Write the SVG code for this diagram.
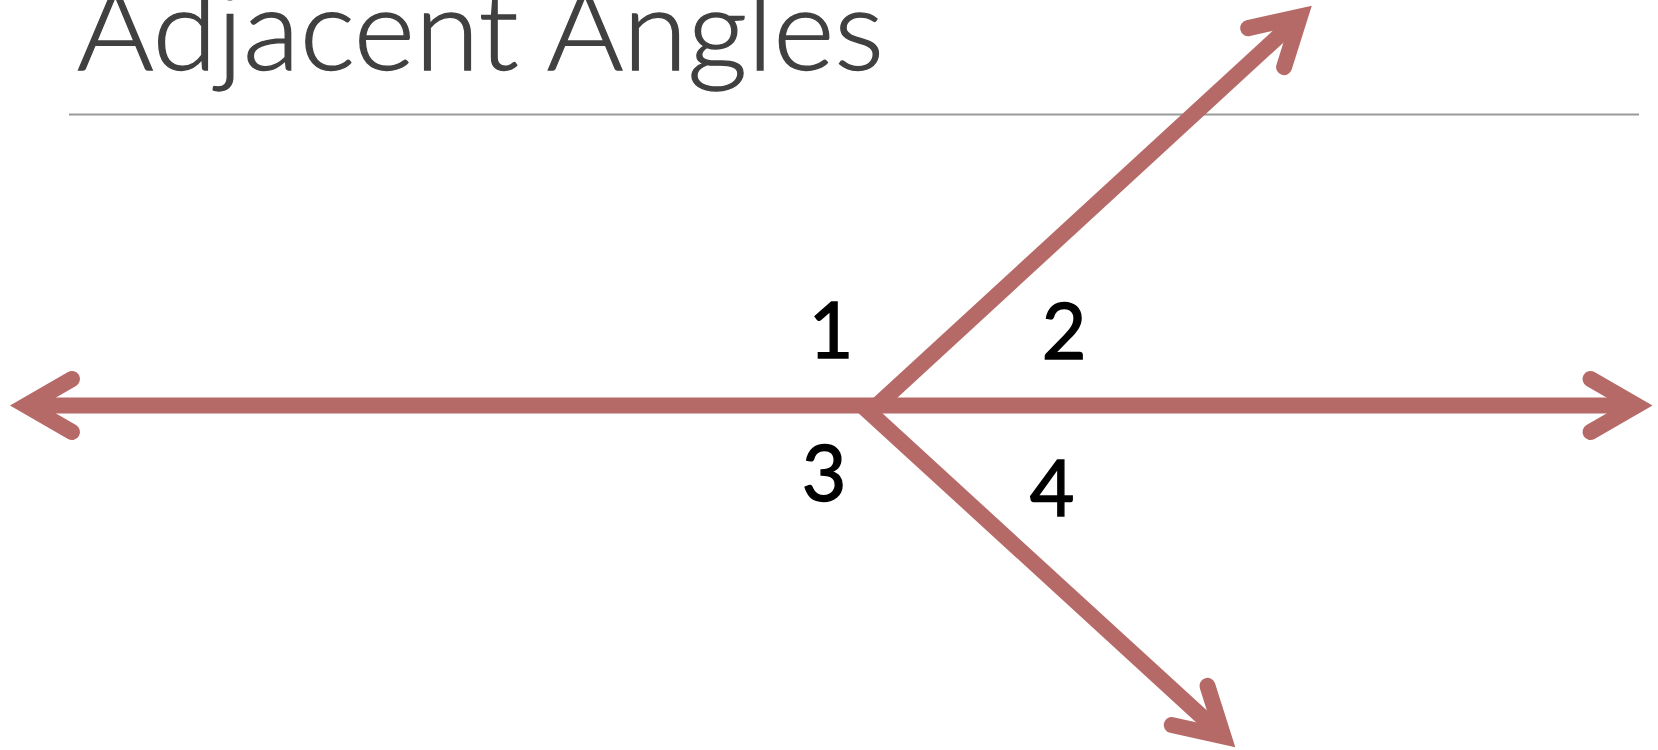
<svg xmlns="http://www.w3.org/2000/svg" width="1658" height="750" viewBox="0 0 1658 750">
<style>
.ln{stroke:#B66A68;stroke-width:16;fill:none;stroke-linecap:butt}
.num{font-family:Lato,"Open Sans","Liberation Sans",sans-serif;font-size:77px;fill:#000;stroke:#000;stroke-width:1.4;text-anchor:middle}
.title{font-family:Lato,"Open Sans","Liberation Sans",sans-serif;font-weight:300;font-size:113px;fill:#404040;stroke:#404040;stroke-width:1.3}
</style>
<defs>
<marker id="ah" viewBox="-70 -45 100 90" markerWidth="100" markerHeight="90" refX="0" refY="0" orient="auto-start-reverse" markerUnits="userSpaceOnUse" overflow="visible">
<path d="M-46,-26.5 L0,0 L-46,26.5" fill="none" stroke="#B66A68" stroke-width="16" stroke-linecap="round" stroke-linejoin="miter"/>
</marker>
</defs>
<g id="title">
<text class="title" x="77" y="70" textLength="807" lengthAdjust="spacingAndGlyphs">Adjacent Angles</text>
<line x1="69" y1="114.5" x2="1639" y2="114.5" stroke="#9a9a9a" stroke-width="1.8"/>
</g>
<g id="connectors">
<line class="ln" x1="26" y1="405.5" x2="1636.5" y2="405.5" marker-start="url(#ah)" marker-end="url(#ah)"/>
<line class="ln" x1="877" y1="405.5" x2="1300" y2="16.5" marker-end="url(#ah)"/>
<line class="ln" x1="862" y1="405.5" x2="1223.5" y2="736.5" marker-end="url(#ah)"/>
</g>
<g id="label1"><text class="num" x="831" y="358">1</text></g>
<g id="label2"><text class="num" x="1064" y="359">2</text></g>
<g id="label3"><text class="num" x="824" y="501">3</text></g>
<g id="label4"><text class="num" x="1052" y="516">4</text></g>
</svg>
